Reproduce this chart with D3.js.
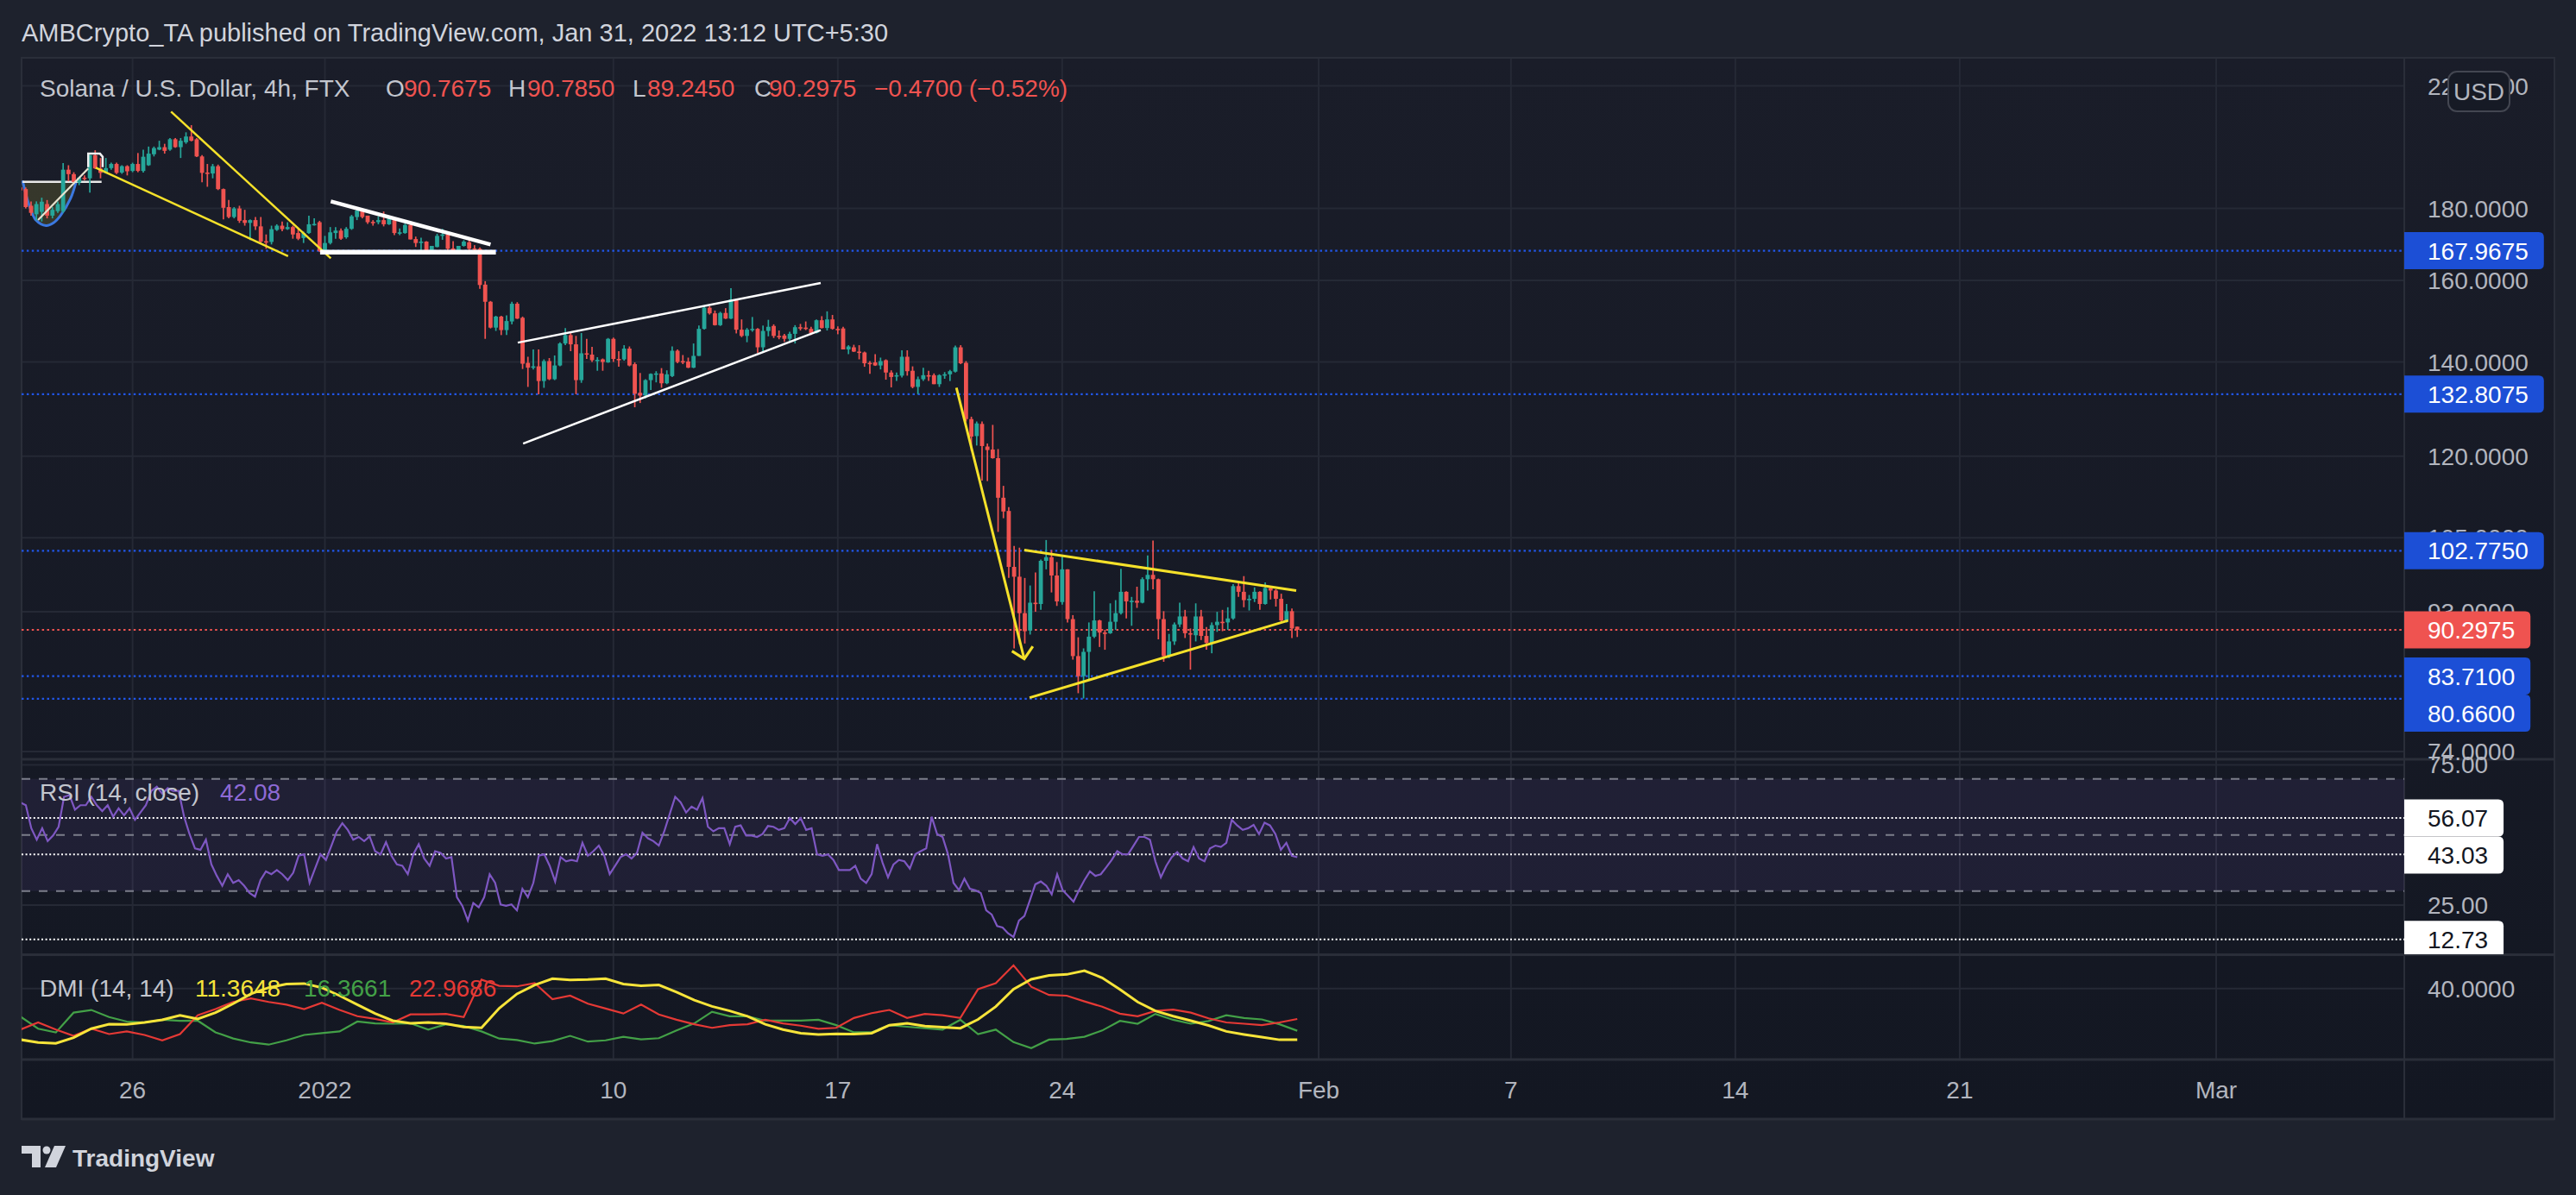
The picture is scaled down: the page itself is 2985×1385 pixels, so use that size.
<!DOCTYPE html>
<html><head><meta charset="utf-8">
<script src="https://cdn.jsdelivr.net/npm/d3@7"></script>
<style>html,body{margin:0;padding:0;background:#1e222d;overflow:hidden}svg{display:block}</style>
</head><body>
<svg id="c" width="2985" height="1385"></svg>
<script>
// ---------------- DATA ----------------
const firstBarTime = Date.UTC(2021, 11, 22, 13, 30); // chart-local time of first visible 4h bar
const barHours = 4;
const opens = [186.3,185.8,180.8,178.3,179.0,181.3,177.9,179.2,179.2,191.8,190.4,187.8,189.3,189.1,196.4,192.2,190.8,192.3,193.6,190.9,192.9,191.4,193.6,191.4,193.2,196.7,198.2,199.0,198.2,201.6,199.0,200.6,202.5,201.6,196.0,190.9,190.6,192.9,185.8,180.4,177.5,180.0,176.6,175.8,176.6,174.8,170.6,170.4,173.8,175.0,174.0,174.6,172.9,171.5,172.9,175.4,176.0,168.1,170.1,172.9,173.6,
171.7,174.1,177.5,179.4,177.9,176.1,176.0,176.6,175.4,176.6,173.0,172.9,175.2,171.2,170.3,170.5,167.5,169.0,172.1,172.5,168.6,167.7,169.3,170.3,168.6,168.5,158.9,154.5,148.1,150.8,147.5,149.6,154.0,150.5,139.8,138.9,139.0,135.7,140.2,136.1,139.2,144.3,146.3,144.1,135.9,142.0,141.7,140.4,140.6,139.9,145.4,140.7,140.6,143.1,139.5,133.1,132.5,135.9,137.3,137.4,135.2,
136.8,142.6,140.2,140.1,138.7,141.4,147.8,153.0,151.6,148.7,151.7,150.3,155.1,147.6,146.1,147.7,147.8,143.4,147.3,148.5,146.1,146.2,145.4,146.6,148.2,148.1,147.8,146.8,149.9,148.0,150.1,147.8,147.9,142.9,143.4,142.4,142.2,139.8,139.9,139.2,140.4,137.6,136.9,136.9,141.2,138.0,134.4,136.1,137.0,137.0,135.0,137.1,137.2,137.8,143.4,
139.8,127.5,124.0,126.5,
121.9,121.3,119.6,112.1,109.7,100.1,98.5,92.8,90.2,94.4,94.2,101.1,101.7,98.7,94.5,99.7,91.9,86.5,83.7,87.1,89.3,91.7,89.9,89.8,91.5,92.8,96.1,94.6,94.7,94.4,98.1,98.8,98.1,91.9,86.5,88.6,91.1,92.3,89.8,89.5,92.3,89.4,88.4,91.0,91.5,91.4,92.0,97.0,96.1,94.8,95.0,96.1,94.2,96.7,96.3,95.0,91.7,93.1,90.7675];
const highs = [186.9,186.3,182.1,182.1,183.2,182.5,180.4,182.1,193.9,193.2,191.0,189.6,190.0,196.5,198.0,195.5,195.5,194.0,194.0,193.2,193.2,194.0,197.1,198.2,199.2,199.2,201.1,200.1,202.0,202.0,202.0,203.9,206.3,202.0,196.4,193.6,193.6,193.4,186.0,182.5,180.4,180.8,179.6,176.8,177.5,177.5,172.5,175.0,175.4,176.2,176.0,175.0,174.2,173.3,177.9,177.1,176.4,172.1,174.6,174.6,174.2,
174.6,178.1,180.0,180.0,177.9,176.6,177.7,179.1,177.5,177.1,174.2,175.6,176.2,171.9,171.6,170.6,169.3,172.7,174.1,172.7,170.6,169.3,170.9,171.3,169.5,168.9,159.8,154.7,151.0,151.0,151.1,154.5,154.4,150.8,141.2,142.9,142.9,140.6,140.9,141.5,144.6,148.0,146.8,146.1,146.8,145.4,143.5,141.1,140.8,145.6,145.7,142.5,143.9,143.6,139.9,137.5,136.1,137.4,137.9,138.6,138.1,
143.6,142.9,141.6,141.0,144.3,148.6,153.4,153.4,152.3,152.0,152.9,158.0,155.2,150.1,148.0,150.7,148.0,148.6,150.0,148.9,147.4,146.6,147.1,148.7,149.0,149.6,148.3,150.1,150.9,152.1,151.2,148.4,148.3,143.9,144.0,143.9,142.4,140.2,141.8,141.0,140.6,138.1,137.6,142.7,142.7,139.0,136.7,138.7,138.0,137.4,137.2,137.7,138.2,143.8,143.9,
140.2,128.0,127.0,127.0,
122.5,126.3,121.4,114.3,110.4,103.6,103.3,98.3,97.1,99.2,101.3,104.6,102.9,100.9,101.8,99.7,92.5,89.2,87.6,91.4,96.2,91.8,90.3,94.3,94.8,99.8,96.2,95.3,96.9,98.4,102.0,104.5,98.2,93.1,89.7,91.4,94.4,93.3,90.5,94.3,93.3,90.7,91.4,93.0,93.3,93.7,97.3,97.6,98.6,95.6,96.8,96.2,97.6,97.0,96.5,95.8,94.2,93.5,90.785];
const lows = [184.3,180.0,177.9,176.5,176.2,177.1,177.1,178.7,178.7,188.2,187.5,187.0,188.5,184.7,192.0,189.1,190.6,191.8,190.4,190.5,190.0,191.0,191.0,190.9,193.0,196.0,198.0,196.9,197.8,198.8,195.5,200.1,200.9,195.8,187.9,186.5,189.1,185.5,176.8,177.1,177.1,175.8,175.0,170.9,173.8,170.1,168.5,169.7,173.5,173.4,173.8,171.3,170.9,170.1,172.7,175.0,167.6,167.7,169.7,171.3,171.0,
171.3,173.8,176.6,177.1,175.5,175.0,175.4,174.8,175.2,172.3,172.3,172.7,171.1,169.0,167.4,167.2,167.4,168.9,171.0,167.5,167.5,167.4,169.1,168.1,167.7,157.8,145.4,147.9,147.3,146.3,146.3,148.9,150.2,138.4,134.4,138.3,132.8,134.2,135.9,135.9,139.0,143.9,142.5,132.8,135.3,140.7,140.0,138.0,138.0,139.8,140.0,138.9,140.3,139.0,130.0,130.9,131.9,133.7,135.4,134.2,135.0,
136.6,139.7,139.5,138.6,138.6,141.4,147.6,151.3,148.6,148.5,150.2,150.2,146.7,145.8,144.6,147.1,142.1,142.1,146.0,145.6,145.3,144.7,144.9,144.3,147.4,147.5,146.3,146.7,147.9,147.4,147.6,146.5,142.9,141.8,142.3,140.6,138.9,137.3,139.1,138.3,136.0,134.3,135.7,136.5,136.9,134.1,132.8,135.7,135.7,135.0,134.4,136.2,135.7,137.6,139.5,
127.0,121.0,122.1,115.3,
115.2,119.5,106.0,108.4,98.3,87.6,88.2,88.3,89.6,93.0,93.3,99.7,96.0,93.9,94.1,91.4,86.0,81.4,80.7,83.3,89.1,87.8,87.4,89.7,90.3,92.6,92.0,90.9,93.6,94.3,96.3,96.5,88.9,85.7,86.2,88.1,90.7,89.1,84.6,88.6,88.8,87.4,86.9,90.0,90.1,90.3,91.8,95.3,93.7,93.2,94.5,93.3,94.1,94.9,93.8,91.5,91.4,89.1,89.245];
const closes = [185.4,180.4,178.7,181.3,182.0,177.9,179.6,181.3,191.8,190.4,188.0,189.3,189.0,196.4,192.2,190.8,192.3,193.6,190.8,192.9,191.3,193.6,191.4,195.9,196.9,198.7,199.0,197.8,201.6,199.0,201.1,202.5,201.1,196.0,190.8,190.6,192.9,185.8,180.2,177.5,180.0,176.4,175.8,176.6,174.8,170.5,170.4,174.0,175.0,174.0,174.6,172.5,171.3,172.9,175.4,175.5,167.9,170.1,173.1,173.6,171.3,
174.1,177.7,179.4,177.5,176.0,175.9,176.6,175.4,177.1,172.9,173.1,175.2,171.1,170.1,170.5,167.7,169.3,172.1,172.5,168.5,167.7,169.3,170.5,168.5,168.4,158.8,154.5,148.1,150.8,147.5,149.7,154.0,150.3,139.6,138.7,139.0,135.7,140.2,136.1,139.2,144.3,146.3,144.1,135.9,142.0,141.7,140.4,140.5,140.0,145.4,140.7,140.6,143.1,139.2,132.9,132.5,135.9,137.3,137.4,135.2,137.2,
142.6,140.0,140.0,138.7,141.4,147.8,153.0,151.6,148.7,151.7,150.3,155.1,147.6,146.1,147.6,147.8,143.4,147.3,148.3,146.1,146.0,145.4,146.6,148.2,148.0,147.8,146.8,149.9,148.0,150.1,147.8,147.7,142.9,143.6,142.4,142.3,139.7,139.7,139.2,140.2,137.6,136.6,137.0,141.2,137.9,134.4,136.1,137.0,136.8,135.0,137.0,137.2,137.9,143.4,139.7,
127.5,123.9,126.6,122.0,
121.2,119.6,112.1,109.6,100.1,98.5,92.8,90.1,94.4,94.2,101.1,101.7,98.7,94.6,99.7,91.9,86.5,83.7,87.1,89.3,91.7,89.9,89.8,91.5,92.8,96.1,94.6,94.7,94.4,98.1,98.8,98.1,91.9,86.5,88.6,91.1,92.3,89.8,89.6,92.3,89.4,88.4,91.0,91.5,91.4,92.0,97.0,96.1,94.8,95.0,96.1,94.2,96.7,96.3,95.0,91.7,93.1,90.5,90.2975];

const rsiValues = [61.6,60.6,52.4,48.3,52.4,47.8,49.8,52.9,63.6,64.2,59.0,60.6,60.6,63.6,60.6,58.5,60.6,56.5,59.5,57.0,59.5,55.4,58.0,60.6,65.7,67.2,64.7,66.7,65.7,65.7,56.5,50.3,45.2,44.7,48.3,39.5,35.4,31.9,36.0,32.9,33.9,31.9,29.3,28.0,33.9,37.0,36.0,37.5,36.0,33.9,36.5,42.6,43.1,32.9,38.0,43.1,41.1,46.2,51.3,54.2,51.8,48.3,49.3,47.8,49.5,44.2,43.1,47.4,42.6,39.5,39.0,36.0,43.1,46.7,41.6,39.0,44.2,43.6,41.6,42.1,27.8,24.7,19.5,25.7,24.2,27.8,36.0,32.9,25.2,24.7,25.2,23.1,30.8,27.8,32.9,42.6,43.1,39.0,33.4,42.1,40.6,41.1,40.6,47.2,42.6,44.2,46.2,42.6,36.0,39.0,42.1,43.1,41.6,43.6,50.8,48.8,47.8,46.2,51.3,57.5,63.6,61.6,58.0,60.1,59.0,63.1,52.9,51.3,52.4,52.4,46.7,52.9,53.4,49.8,49.8,49.3,50.3,53.2,52.9,51.8,52.4,56.0,53.9,56.0,51.8,52.4,43.1,42.6,43.1,41.1,37.5,37.5,37.5,39.0,34.4,32.9,36.0,46.7,40.1,34.9,39.5,41.1,40.6,38.0,43.1,44.2,45.2,56.5,50.3,
49.3,43.1,32.9,30.3,34.4,30.8,30.3,29.3,23.1,21.6,17.5,17.0,14.9,13.6,19.5,21.1,26.7,32.4,33.4,31.9,28.8,36.0,30.3,28.3,26.2,30.3,33.9,37.0,35.4,36.0,38.5,41.1,44.2,43.1,43.1,46.2,49.3,49.3,48.3,40.6,34.9,39.0,42.1,43.9,41.6,40.6,45.7,41.6,40.6,45.2,46.2,45.7,47.2,55.4,53.4,51.8,52.4,53.6,50.3,54.4,53.4,50.3,44.7,47.2,42.6,42.08];
const adxValues = [11.4,9.8,9.3,12.5,17.5,20.0,19.9,21.0,22.5,25.0,23.0,26.5,31.5,37.0,40.5,42.5,42.8,40.5,36.0,31.0,26.0,22.0,20.5,21.0,20.3,18.5,18.0,29.0,37.0,42.0,45.5,44.8,45.0,45.5,42.5,41.5,42.0,38.0,33.5,30.0,27.5,24.5,20.0,17.0,15.0,14.3,14.6,14.5,15.0,19.5,20.5,19.0,18.3,17.8,22.7,29.9,39.6,45.2,47.3,47.9,50.0,46.0,39.5,32.5,27.5,24.5,22.0,19.3,16.0,14.3,12.8,11.3,11.3648];
const plusDIValues = [24.3,17.5,15.4,26.5,28.0,24.0,21.5,21.0,22.5,21.9,22.0,15.5,12.0,9.8,8.6,11.0,14.0,15.0,16.0,21.5,20.5,20.3,20.5,17.0,20.0,19.0,16.0,12.0,11.2,9.2,10.6,13.5,10.3,11.0,13.0,11.5,12.2,16.5,20.5,27.0,24.5,24.5,22.0,22.0,22.0,22.5,19.5,15.5,15.5,19.5,18.6,17.8,17.0,22.5,14.5,17.0,10.0,6.6,11.4,11.8,13.0,16.5,21.9,20.3,25.8,22.5,20.3,21.8,25.0,23.5,22.7,20.0,16.3661];
const minusDIValues = [17.0,21.0,17.0,13.5,17.5,14.5,16.0,14.0,11.0,14.5,25.0,28.5,32.5,34.5,32.5,31.0,28.5,32.0,28.0,24.5,23.0,21.0,25.5,25.5,25.8,24.0,45.0,41.5,41.2,43.0,34.0,36.0,31.5,28.8,26.0,31.0,25.5,22.5,20.0,18.0,19.5,20.0,22.5,20.5,19.2,17.5,18.0,23.5,26.2,28.0,23.5,25.8,25.1,23.5,39.6,43.0,53.0,41.0,36.4,36.0,32.8,29.8,25.9,24.5,27.5,28.2,26.5,23.3,21.0,20.3,19.5,21.0,22.9686];

const priceTicks = [220, 180, 160, 140, 120, 105, 93, 74];
const levelPrices = [167.9675, 132.8075, 102.775, 83.71, 80.66];
const lastPrice = 90.2975;
const rsiBands = [70, 50, 30];
const rsiTicks = [75, 25];
const rsiMarks = [56.07, 43.03, 12.73];
const dmiTicks = [40];
const timeTickDays = ["2021-12-26","2022-01-01","2022-01-10","2022-01-17","2022-01-24","2022-02-01","2022-02-07","2022-02-14","2022-02-21","2022-03-01"];
const timeTickLabels = ["26","2022","10","17","24","Feb","7","14","21","Mar"];

// drawings: [bar index, price]
const cupCurve = [[0.4,188.4],[1.6,181.2],[2.9,176.6],[4.8,175.0],[6.2,175.8],[7.5,177.9],[9.4,183.0],[10.45,188.2]];
const cupRim = [[0.4,188.0],[15.2,188.0]];
const cupHandle = [[3.3,176.6],[12.7,192.2]];
const cupFlag = [[12.7,192.6],[12.7,196.9],[14.9,196.9],[15.4,195.9],[15.4,192.6]];
const yellowWedge = [[[28.2,210.9],[58.1,165.9]],[[14.1,192.4],[50.1,166.5]]];
const descTriangle = [[[58.1,182.1],[88.0,169.7]],[[56.1,167.6],[89.0,167.6]]];
const risingWedge = [[[93.1,144.5],[149.8,159.3]],[[94.1,122.5],[149.8,147.5]]];
const dropArrow = [[175.2,134.2],[187.9,86.1]];
const dropArrowHead = [[185.6,87.2],[187.9,86.1],[189.5,87.9]];
const symTriangle = [[[187.9,102.9],[238.8,96.3]],[[188.9,80.8],[237.3,91.7]]];

// ---------------- LAYOUT ----------------
const W = 2985, H = 1385;
const FONT = "'Liberation Sans', Arial, sans-serif";
const L = 25, R = 2786, AX = 2960;
const mainTop = 67, mainBot = 880, rsiTop = 881, rsiBot = 1106, dmiTop = 1107, dmiBot = 1228, timeBot = 1297;
const H4 = barHours * 3600e3;
const barTime = i => new Date(firstBarTime + i * H4);

const x = d3.scaleUtc().domain([new Date(Date.UTC(2022,0,1,1,30)), new Date(Date.UTC(2022,1,1,1,30))]).range([376.5, 1528]);
const xb = i => x(barTime(i));
const y = d3.scaleLog().domain([180, 74]).range([241.6, 870.9]);
const yR = d3.scaleLinear().domain([70, 30]).range([902.7, 1032.7]);
const yD = d3.scaleLinear().domain([40, 0]).range([1145.7, 1228.5]);

const svg = d3.select("#c").attr("font-family", FONT);
const defs = svg.append("defs");
const gr = defs.append("linearGradient").attr("id","bg").attr("x1",0).attr("y1",0).attr("x2",0).attr("y2",1);
gr.append("stop").attr("offset","0%").attr("stop-color","#1a1d29");
gr.append("stop").attr("offset","100%").attr("stop-color","#131722");
function clip(id, y0, y1){ defs.append("clipPath").attr("id",id).append("rect").attr("x",L).attr("y",y0).attr("width",R-L).attr("height",y1-y0); }
clip("cm", mainTop, mainBot); clip("cr", rsiTop, rsiBot); clip("cd", dmiTop, dmiBot);
defs.append("clipPath").attr("id","cax").append("rect").attr("x",R).attr("y",rsiTop).attr("width",AX-R).attr("height",rsiBot-rsiTop);

svg.append("rect").attr("width",W).attr("height",H).attr("fill","#1e222d");
svg.append("rect").attr("x",L).attr("y",mainTop).attr("width",AX-L).attr("height",timeBot-mainTop).attr("fill","url(#bg)");

const GRID = "#252935";
// vertical grid
const tickDates = timeTickDays.map(s => new Date(Date.parse(s + "T01:30:00Z")));
svg.append("g").selectAll("line").data(tickDates).join("line")
  .attr("x1", d=>x(d)).attr("x2", d=>x(d)).attr("y1", mainTop).attr("y2", dmiBot)
  .attr("stroke", GRID).attr("stroke-width", 2);
// horizontal grid
svg.append("g").selectAll("line").data(priceTicks).join("line")
  .attr("x1", L).attr("x2", R).attr("y1", d=>y(d)).attr("y2", d=>y(d)).attr("stroke", GRID).attr("stroke-width", 2);
svg.append("g").selectAll("line").data(rsiTicks).join("line")
  .attr("x1", L).attr("x2", R).attr("y1", d=>yR(d)).attr("y2", d=>yR(d)).attr("stroke", GRID).attr("stroke-width", 2);
svg.append("g").selectAll("line").data(dmiTicks).join("line")
  .attr("x1", L).attr("x2", R).attr("y1", d=>yD(d)).attr("y2", d=>yD(d)).attr("stroke", GRID).attr("stroke-width", 2);

// pane separators / borders
const SEP = "#2a2e39";
[mainBot, rsiBot+0.5, dmiBot, timeBot].forEach(v => svg.append("line").attr("x1",L).attr("x2",AX).attr("y1",v).attr("y2",v).attr("stroke",SEP).attr("stroke-width",3));
svg.append("line").attr("x1",R).attr("x2",R).attr("y1",mainTop).attr("y2",timeBot).attr("stroke",SEP).attr("stroke-width",2);
svg.append("rect").attr("x",L).attr("y",mainTop).attr("width",AX-L).attr("height",timeBot-mainTop).attr("fill","none").attr("stroke",SEP).attr("stroke-width",2);

// ---------- main pane ----------
const gm = svg.append("g").attr("clip-path","url(#cm)");
gm.append("g").selectAll("line").data(levelPrices).join("line")
  .attr("x1",L).attr("x2",R).attr("y1",d=>y(d)).attr("y2",d=>y(d))
  .attr("stroke","#2156e8").attr("stroke-width",2.2).attr("stroke-dasharray","2.5,3.4");
gm.append("line").attr("x1",L).attr("x2",R).attr("y1",y(lastPrice)).attr("y2",y(lastPrice))
  .attr("stroke","#ef5350").attr("stroke-width",2.2).attr("stroke-dasharray","2.5,3.4");

// cup
const P = d => [xb(d[0]), y(d[1])];
const lineGen = d3.line().x(d=>xb(d[0])).y(d=>y(d[1]));
const curveGen = d3.line().x(d=>xb(d[0])).y(d=>y(d[1])).curve(d3.curveCatmullRom);
gm.append("path").attr("d", curveGen(cupCurve) + "Z").attr("fill","rgba(210,200,60,0.16)");
gm.append("path").attr("d", curveGen(cupCurve)).attr("fill","none").attr("stroke","#3b78e0").attr("stroke-width",3);
gm.append("path").attr("d", lineGen(cupRim)).attr("stroke","#e8e8e8").attr("stroke-width",2.5);

// candles
const UP = "#26a69a", DN = "#ef5350";
const bars = opens.map((o,i)=>({i, o, h:highs[i], l:lows[i], c:closes[i]}));
const cg = gm.append("g");
cg.selectAll("line").data(bars).join("line")
  .attr("x1", d=>xb(d.i)).attr("x2", d=>xb(d.i))
  .attr("y1", d=>y(Math.max(d.h,d.o,d.c))).attr("y2", d=>y(Math.min(d.l,d.o,d.c)))
  .attr("stroke", d=>d.c>=d.o?UP:DN).attr("stroke-width",1.7);
cg.selectAll("rect").data(bars).join("rect")
  .attr("x", d=>xb(d.i)-2.4).attr("width",4.8)
  .attr("y", d=>y(Math.max(d.o,d.c)))
  .attr("height", d=>Math.max(1.6, y(Math.min(d.o,d.c)) - y(Math.max(d.o,d.c))))
  .attr("fill", d=>d.c>=d.o?UP:DN);

// drawings
gm.append("path").attr("d", lineGen(cupHandle)).attr("stroke","#e6e3d0").attr("stroke-width",2.2).attr("fill","none");
gm.append("path").attr("d", lineGen(cupFlag)).attr("stroke","#f0f0f0").attr("stroke-width",2.5).attr("fill","none");
yellowWedge.forEach(s => gm.append("path").attr("d", lineGen(s)).attr("stroke","#f5e12a").attr("stroke-width",2.5));
descTriangle.forEach((s,k) => gm.append("path").attr("d", lineGen(s)).attr("stroke","#ffffff").attr("stroke-width",k?5.5:4.5));
risingWedge.forEach(s => gm.append("path").attr("d", lineGen(s)).attr("stroke","#ffffff").attr("stroke-width",2.5));
gm.append("path").attr("d", lineGen(dropArrow)).attr("stroke","#f5e12a").attr("stroke-width",3).attr("fill","none");
gm.append("path").attr("d", lineGen(dropArrowHead)).attr("stroke","#f5e12a").attr("stroke-width",3.2).attr("fill","none").attr("stroke-linejoin","miter");
symTriangle.forEach(s => gm.append("path").attr("d", lineGen(s)).attr("stroke","#f5e12a").attr("stroke-width",3));

// ---------- RSI pane ----------
const gr2 = svg.append("g").attr("clip-path","url(#cr)");
gr2.append("rect").attr("x",L).attr("width",R-L).attr("y",yR(70)).attr("height",yR(30)-yR(70)).attr("fill","rgba(126,87,194,0.11)");
gr2.append("g").selectAll("line").data(rsiBands).join("line")
  .attr("x1",L).attr("x2",R).attr("y1",d=>yR(d)).attr("y2",d=>yR(d))
  .attr("stroke","#7b7e8a").attr("stroke-width",2).attr("stroke-dasharray","10,10");
gr2.append("g").selectAll("line").data(rsiMarks).join("line")
  .attr("x1",L).attr("x2",R).attr("y1",d=>yR(d)).attr("y2",d=>yR(d))
  .attr("stroke","#ffffff").attr("stroke-width",2).attr("stroke-dasharray","2,2.6");
const rsiStep = 239 / (rsiValues.length - 1);
gr2.append("path").datum(rsiValues)
  .attr("d", d3.line().x((d,j)=>xb(j*rsiStep)).y(d=>yR(d)))
  .attr("fill","none").attr("stroke","#7e57c2").attr("stroke-width",2.2);

// ---------- DMI pane ----------
const gd = svg.append("g").attr("clip-path","url(#cd)");
const dmiStep = 239 / (adxValues.length - 1);
const dl = d3.line().x((d,j)=>xb(j*dmiStep)).y(d=>yD(d));
gd.append("path").datum(plusDIValues).attr("d", dl).attr("fill","none").attr("stroke","#43a047").attr("stroke-width",2.2);
gd.append("path").datum(minusDIValues).attr("d", dl).attr("fill","none").attr("stroke","#e53935").attr("stroke-width",2.2);
gd.append("path").datum(adxValues).attr("d", dl).attr("fill","none").attr("stroke","#f7e43a").attr("stroke-width",3);

// ---------- axes ----------
const AXT = "#b2b5be", FS = 28;
const TX = 2813;
svg.append("g").selectAll("text").data(priceTicks).join("text")
  .attr("x",TX).attr("y",d=>y(d)+10).attr("fill",AXT).attr("font-size",FS).text(d=>d3.format(".4f")(d));
svg.append("g").selectAll("text").data(rsiTicks).join("text")
  .attr("x",TX).attr("y",d=>yR(d)+10).attr("fill",AXT).attr("font-size",FS).text(d=>d3.format(".2f")(d));
svg.append("g").selectAll("text").data(dmiTicks).join("text")
  .attr("x",TX).attr("y",d=>yD(d)+10).attr("fill",AXT).attr("font-size",FS).text(d=>d3.format(".4f")(d));
// time axis
svg.append("g").selectAll("text").data(tickDates).join("text")
  .attr("x",d=>x(d)).attr("y",1273).attr("text-anchor","middle").attr("fill",AXT).attr("font-size",FS)
  .text((d,i)=>timeTickLabels[i]);

// price labels
const LH = 43;
function axisLabel(g, yc, str, fill, tc){
  const grp = g.append("g");
  const t = grp.append("text").attr("x",TX).attr("y",yc+10).attr("fill",tc).attr("font-size",FS).text(str);
  const w = t.node().getComputedTextLength();
  const x0 = R, x1 = TX + w + 18, y0 = yc - LH/2, y1 = yc + LH/2, r = 6;
  grp.insert("path","text").attr("d",`M${x0},${y0}H${x1-r}Q${x1},${y0} ${x1},${y0+r}V${y1-r}Q${x1},${y1} ${x1-r},${y1}H${x0}Z`).attr("fill",fill);
}
const mainLabels = levelPrices.map(v=>({v, fill:"#1c4fd6"})).concat([{v:lastPrice, fill:"#ef5350"}]);
mainLabels.forEach(d=>d.yc=y(d.v));
mainLabels.sort((a,b)=>a.yc-b.yc);
for (let k=1;k<mainLabels.length;k++) if (mainLabels[k].yc - mainLabels[k-1].yc < LH) mainLabels[k].yc = mainLabels[k-1].yc + LH;
const gl = svg.append("g");
mainLabels.forEach(d => axisLabel(gl, d.yc, d3.format(".4f")(d.v), d.fill, "#ffffff"));
const rsiLab = rsiMarks.map(v=>({v, yc:yR(v)})).sort((a,b)=>a.yc-b.yc);
for (let k=1;k<rsiLab.length;k++) if (rsiLab[k].yc - rsiLab[k-1].yc < LH) rsiLab[k].yc = rsiLab[k-1].yc + LH;
const grl = svg.append("g").attr("clip-path","url(#cax)");
rsiLab.forEach(d => axisLabel(grl, d.yc, d3.format(".2f")(d.v), "#ffffff", "#131722"));

// USD box
svg.append("rect").attr("x",2837).attr("y",83).attr("width",71).attr("height",46).attr("rx",10)
  .attr("fill","#161a25").attr("stroke","#434651").attr("stroke-width",2);
svg.append("text").attr("x",2872.5).attr("y",116).attr("text-anchor","middle").attr("fill",AXT).attr("font-size",FS).text("USD");

// ---------- legends / header ----------
svg.append("text").attr("x",25).attr("y",48).attr("fill","#d1d4dc").attr("font-size",29)
  .text("AMBCrypto_TA published on TradingView.com, Jan 31, 2022 13:12 UTC+5:30");
const LG = "#c3c6ce", RED = "#ef5350";
const legendParts = [["Solana / U.S. Dollar, 4h, FTX",LG,46],["O",LG,447],["90.7675",RED,468],["H",LG,589],["90.7850",RED,611],["L",LG,733],["89.2450",RED,750],["C",LG,874],["90.2975",RED,891],["\u22120.4700 (\u22120.52%)",RED,1013]];
const lg = svg.append("text").attr("y",112).attr("font-size",28);
legendParts.forEach(p => lg.append("tspan").attr("x",p[2]).attr("fill",p[1]).text(p[0]));
const rl = svg.append("text").attr("y",928).attr("font-size",28);
rl.append("tspan").attr("x",46).attr("fill",LG).text("RSI (14, close)");
rl.append("tspan").attr("x",255).attr("fill","#8e6ad6").text("42.08");
const dlg = svg.append("text").attr("y",1155).attr("font-size",28);
dlg.append("tspan").attr("x",46).attr("fill",LG).text("DMI (14, 14)");
dlg.append("tspan").attr("x",226).attr("fill","#f7e43a").text("11.3648");
dlg.append("tspan").attr("x",352).attr("fill","#43a047").text("16.3661");
dlg.append("tspan").attr("x",474).attr("fill","#e53935").text("22.9686");

// TradingView logo
const lgo = svg.append("g").attr("fill","#d1d4dc");
lgo.append("path").attr("d","M25,1328 H47 V1353 H37 V1337 H25 Z");
lgo.append("circle").attr("cx",54).attr("cy",1333).attr("r",4.5);
lgo.append("path").attr("d","M63,1328 H76 L65,1353 H52 Z");
svg.append("text").attr("x",84).attr("y",1352).attr("fill","#d1d4dc").attr("font-size",28).attr("font-weight",600).text("TradingView");
</script>
</body></html>
